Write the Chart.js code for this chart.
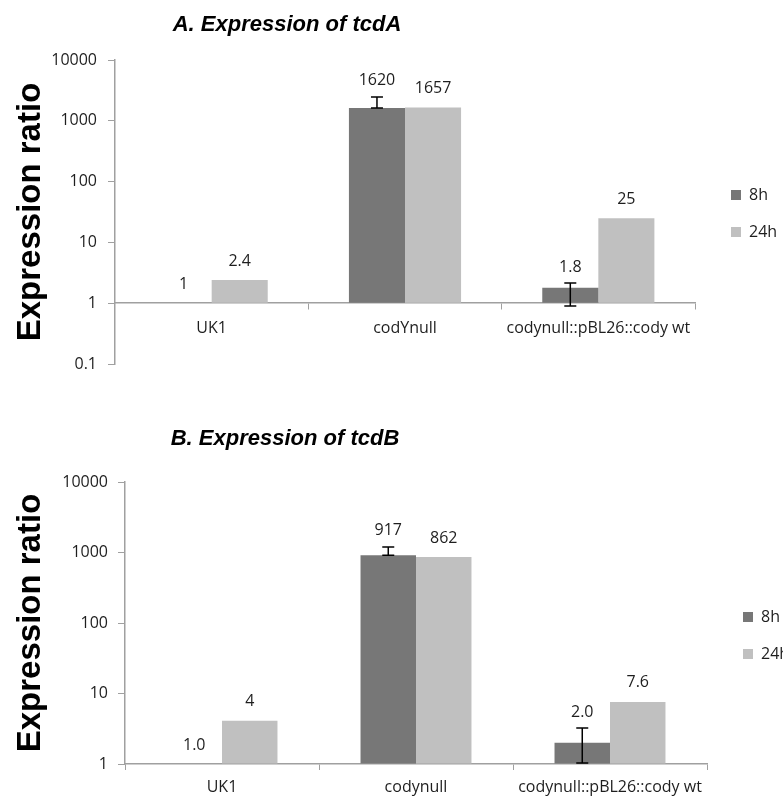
<!DOCTYPE html>
<html><head><meta charset="utf-8">
<script src="https://cdn.jsdelivr.net/npm/chart.js@4.4.1/dist/chart.umd.min.js"></script>
<style>
html,body{margin:0;padding:0;background:#fff;width:783px;height:797px;overflow:hidden}
#a{position:absolute;left:0;top:0}
#b{position:absolute;left:0;top:400px}
</style>
</head><body>
<canvas id="a" width="783" height="400"></canvas>
<canvas id="b" width="783" height="397"></canvas>
<script>
// ---- data ----
const categoriesA = ['UK1', 'codYnull', 'codynull::pBL26::cody wt'];
const categoriesB = ['UK1', 'codynull', 'codynull::pBL26::cody wt'];
const seriesNames = ['8h', '24h'];

const tcdA_8h = [1, 1620, 1.8];
const tcdA_24h = [2.4, 1657, 25];
const tcdA_8h_labels = ['1', '1620', '1.8'];
const tcdA_24h_labels = ['2.4', '1657', '25'];
const tcdA_8h_errLow = [null, 1620, 0.9];
const tcdA_8h_errHigh = [null, 2470, 2.15];

const tcdB_8h = [1.0, 917, 2.0];
const tcdB_24h = [4.1, 862, 7.6];
const tcdB_8h_labels = ['1.0', '917', '2.0'];
const tcdB_24h_labels = ['4', '862', '7.6'];
const tcdB_8h_errLow = [null, 917, 1.03];
const tcdB_8h_errHigh = [null, 1200, 3.24];

const yTicksA = [0.1, 1, 10, 100, 1000, 10000];
const yTicksB = [1, 10, 100, 1000, 10000];

const titleA = 'A. Expression of tcdA';
const titleB = 'B. Expression of tcdB';
const yTitle = 'Expression ratio';

// ---- styles ----
const DARK = '#777777';
const LIGHT = '#c0c0c0';
const AXIS = '#a0a0a0';
const TXT = '#1e1e1e';
const FONT = 'Open Sans';

// ---- plugins ----
const barExtras = {
  id: 'barExtras',
  afterDatasetsDraw(chart) {
    const ctx = chart.ctx;
    const ys = chart.scales.y;
    chart.data.datasets.forEach((ds, di) => {
      const meta = chart.getDatasetMeta(di);
      meta.data.forEach((bar, i) => {
        let labelY = bar.y - 19;
        if (ds.errHigh && ds.errHigh[i] != null) {
          const yl = ys.getPixelForValue(ds.errLow[i]);
          const yh = ys.getPixelForValue(ds.errHigh[i]);
          ctx.save();
          ctx.strokeStyle = '#000';
          ctx.lineWidth = 1.5;
          ctx.beginPath();
          ctx.moveTo(bar.x, yl); ctx.lineTo(bar.x, yh);
          ctx.moveTo(bar.x - 6, yl); ctx.lineTo(bar.x + 6, yl);
          ctx.moveTo(bar.x - 6, yh); ctx.lineTo(bar.x + 6, yh);
          ctx.stroke();
          ctx.restore();
          labelY = Math.min(labelY, yh - 16);
        }
        if (ds.valueLabels) {
          ctx.save();
          ctx.font = '16px "' + FONT + '"';
          ctx.fillStyle = TXT;
          ctx.textAlign = 'center';
          ctx.textBaseline = 'middle';
          ctx.fillText(ds.valueLabels[i], bar.x, labelY);
          ctx.restore();
        }
      });
    });
  }
};

const legendNudge = {
  id: 'legendNudge',
  afterLayout(chart, args, opts) {
    const l = chart.legend;
    if (!l) return;
    l.left += opts.dx; l.right += opts.dx;
    l.top += opts.dy; l.bottom += opts.dy;
  }
};

const chartTitle = {
  id: 'chartTitle',
  afterDraw(chart, args, opts) {
    const ctx = chart.ctx;
    ctx.save();
    ctx.font = 'italic bold 22px "Liberation Sans", Arial, sans-serif';
    ctx.fillStyle = '#000';
    ctx.textAlign = 'center';
    ctx.textBaseline = 'middle';
    ctx.fillText(opts.text, opts.x, opts.y);
    ctx.restore();
  }
};

function zeroPad(s) { s.paddingLeft = 0; s.paddingRight = 0; s.paddingTop = 0; s.paddingBottom = 0; }

function build(id, cfg) {
  return new Chart(document.getElementById(id), {
    type: 'bar',
    data: {
      labels: cfg.categories,
      datasets: [
        { label: seriesNames[0], data: cfg.s8, backgroundColor: DARK, base: 1, valueLabels: cfg.l8, errLow: cfg.eLo, errHigh: cfg.eHi },
        { label: seriesNames[1], data: cfg.s24, backgroundColor: LIGHT, base: 1, valueLabels: cfg.l24 }
      ]
    },
    options: {
      responsive: false,
      animation: false,
      layout: { padding: cfg.padding },
      datasets: { bar: { categoryPercentage: cfg.catPct, barPercentage: 1 } },
      scales: {
        x: {
          position: cfg.xPos,
          grid: { display: true, drawOnChartArea: false, drawTicks: true, tickLength: 6, color: AXIS, offset: true },
          border: { color: AXIS, width: 1.5 },
          ticks: { font: { family: FONT, size: 16 }, color: TXT, padding: cfg.xPad, maxRotation: 0, autoSkip: false },
          afterFit(s) { zeroPad(s); if (cfg.xHeight) s.height = cfg.xHeight; }
        },
        y: {
          type: 'logarithmic',
          min: cfg.yTicks[0],
          max: cfg.yTicks[cfg.yTicks.length - 1],
          afterBuildTicks(s) { s.ticks = cfg.yTicks.map(v => ({ value: v })); },
          ticks: { callback: v => String(v), font: { family: FONT, size: 16 }, color: TXT, padding: cfg.yPad },
          grid: { drawOnChartArea: false, tickLength: 7, color: AXIS },
          border: { color: AXIS, width: 1.5 },
          title: { display: true, text: yTitle, font: { family: 'Liberation Sans', weight: 'bold', size: 33 }, color: '#000', padding: { top: 11, bottom: 0 } },
          afterFit(s) { s.width = cfg.yWidth; zeroPad(s); }
        }
      },
      plugins: {
        legend: {
          position: 'right',
          fullSize: false,
          maxWidth: 70,
          labels: { boxWidth: 10, boxHeight: 10, padding: 21, font: { family: FONT, size: 16 }, color: TXT }
        },
        tooltip: { enabled: false },
        legendNudge: cfg.nudge,
        chartTitle: cfg.title
      }
    },
    plugins: [barExtras, legendNudge, chartTitle]
  });
}

build('a', {
  categories: categoriesA, s8: tcdA_8h, s24: tcdA_24h, l8: tcdA_8h_labels, l24: tcdA_24h_labels,
  eLo: tcdA_8h_errLow, eHi: tcdA_8h_errHigh, yTicks: yTicksA,
  padding: { top: 60, bottom: 36, left: 0, right: 18 }, catPct: 0.58,
  xPos: { y: 1 }, xPad: 10, xHeight: null, yPad: 11, yWidth: 115,
  nudge: { dx: 15, dy: 1.5 }, title: { text: titleA, x: 287, y: 24.5 }
});

build('b', {
  categories: categoriesB, s8: tcdB_8h, s24: tcdB_24h, l8: tcdB_8h_labels, l24: tcdB_24h_labels,
  eLo: tcdB_8h_errLow, eHi: tcdB_8h_errHigh, yTicks: yTicksB,
  padding: { top: 82, bottom: 0, left: 0, right: 6 }, catPct: 0.572,
  xPos: 'bottom', xPad: 8, xHeight: 33, yPad: 10, yWidth: 125,
  nudge: { dx: 15, dy: 12.5 }, title: { text: titleB, x: 285, y: 38.5 }
});
</script>
</body></html>
